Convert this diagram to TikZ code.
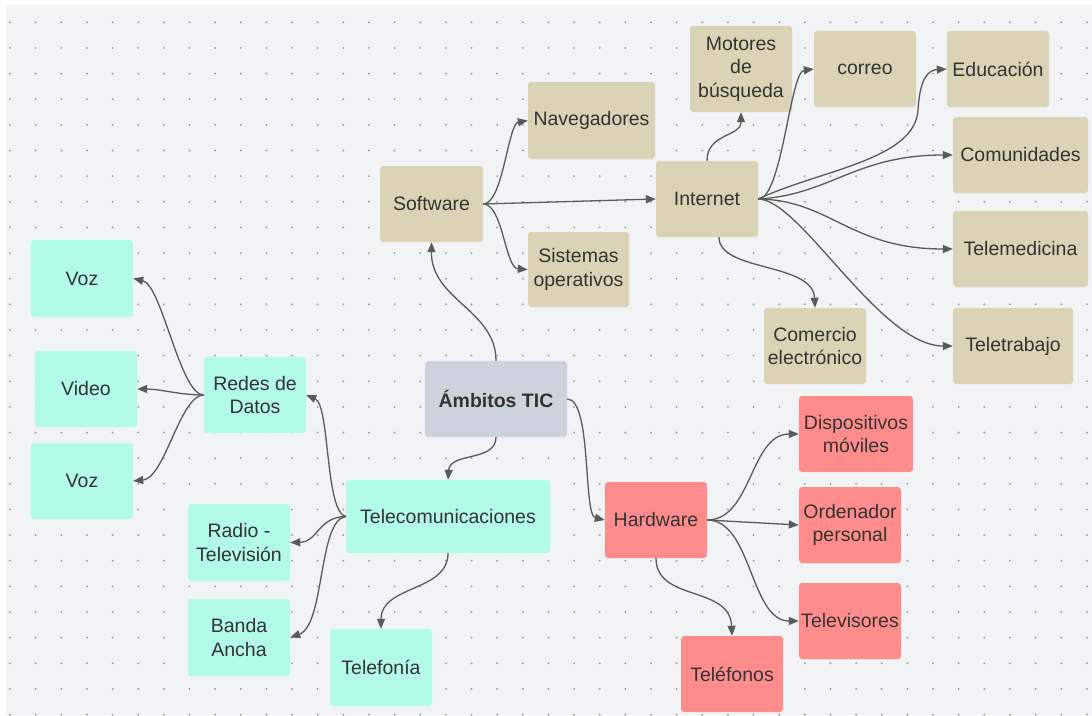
\documentclass[tikz,border=0pt]{standalone}
\usepackage{fontspec}
\setmainfont{Liberation Sans}
\usetikzlibrary{arrows.meta,calc}
\definecolor{bgc}{HTML}{F2F3F5}
\definecolor{dotc}{HTML}{8E929A}
\definecolor{tanc}{HTML}{DAD3B5}
\definecolor{cyanc}{HTML}{B3FBE9}
\definecolor{pinkc}{HTML}{FF8C8C}
\definecolor{grayc}{HTML}{CDD3DC}
\definecolor{txtc}{HTML}{333333}
\definecolor{linec}{HTML}{5A5A5A}
\tikzset{
  box/.style={rectangle, rounded corners=3pt, inner sep=1pt, align=center, text=txtc,
    font=\fontsize{19.5}{23.5}\selectfont, minimum width=102pt, minimum height=76pt},
  tanbox/.style={box, fill=tanc},
  cyanbox/.style={box, fill=cyanc},
  pinkbox/.style={box, fill=pinkc},
  graybox/.style={box, fill=grayc, font=\fontsize{19.5}{23.5}\selectfont\bfseries},
  conn/.style={draw=linec, line width=1.3pt, -{Triangle[length=10pt,width=8pt]}},
}
\begin{document}
\begin{tikzpicture}[x=1pt,y=-1pt]
\fill[white] (0,0) rectangle (1092,715);
\fill[bgc] (6,5) rectangle (1092,715);
\useasboundingbox (0,0) rectangle (1092,715);
\foreach \i in {0,...,42}{
  \foreach \j in {0,...,27}{
    \fill[dotc] ({10+25.64*\i},{22.3+25.64*\j}) circle (1pt);
  }
}
% nodes
\node[graybox, minimum width=142pt] (ambitos) at (496,399) {Ámbitos TIC};
\node[tanbox, minimum width=103pt] (software) at (431.5,204) {Software};
\node[tanbox, minimum width=127pt, minimum height=77pt] (nav) at (591.5,120.5) {Navegadores};
\node[tanbox, minimum width=101pt, minimum height=75pt] (sist) at (578.5,269.5) {Sistemas\\operativos};
\node[tanbox] (internet) at (707,199) {Internet};
\node[tanbox, minimum height=86pt] (motores) at (741,69) {Motores\\de\\búsqueda};
\node[tanbox] (correo) at (865,69) {correo};
\node[tanbox] (edu) at (998,69) {Educación};
\node[tanbox, minimum width=135pt] (comu) at (1020.5,155) {Comunidades};
\node[tanbox, minimum width=135pt] (telemed) at (1020.5,249) {Telemedicina};
\node[tanbox, minimum width=120pt] (teletrab) at (1013,346) {Teletrabajo};
\node[tanbox] (comercio) at (815,346) {Comercio\\electrónico};
\node[cyanbox, minimum width=204pt, minimum height=73pt] (telecom) at (448,516.5) {Telecomunicaciones};
\node[cyanbox, minimum height=77pt] (radio) at (239,542.5) {Radio -\\Televisión};
\node[cyanbox, minimum height=77pt] (banda) at (239,637.5) {Banda\\Ancha};
\node[cyanbox, minimum height=77pt] (telefonia) at (381,667.5) {Telefonía};
\node[cyanbox] (redes) at (255,395) {Redes de\\Datos};
\node[cyanbox, minimum height=77pt] (voza) at (82,278.5) {Voz};
\node[cyanbox] (video) at (86,389) {Video};
\node[cyanbox] (vozb) at (82,481) {Voz};
\node[pinkbox] (hardware) at (656,520) {Hardware};
\node[pinkbox, minimum width=114pt] (disp) at (856,434) {Dispositivos\\móviles};
\node[pinkbox] (orden) at (850,525) {Ordenador\\personal};
\node[pinkbox] (telev) at (850,621) {Televisores};
\node[pinkbox] (telef) at (732,674) {Teléfonos};
% connectors
\draw[conn] (ambitos.north) .. controls (496,310) and (431,300) .. (software.south);
\draw[conn] (ambitos.south) .. controls (496,462) and (450,452) .. (telecom.north);
\draw[conn] (ambitos.east) .. controls (592,399) and (583,515) .. (hardware.west);
\draw[conn] (software.east) .. controls (503,204) and (508,124) .. (nav.west);
\draw[conn] (software.east) -- (internet.west);
\draw[conn] (software.east) .. controls (503,204) and (505,268) .. (sist.west);
\draw[conn] (internet.north) .. controls (707,133) and (741,137) .. (motores.south);
\draw[conn] (internet.east) .. controls (782,199) and (790,72) .. (correo.west);
\draw[conn] (internet.east) .. controls (820,170) and (915,160) .. (918,110) .. controls (920,75) and (930,70) .. (edu.west);
\draw[conn] (internet.east) .. controls (830,195) and (855,155) .. (comu.west);
\draw[conn] (internet.east) .. controls (830,200) and (850,249) .. (telemed.west);
\draw[conn] (internet.east) .. controls (800,199) and (880,346) .. (teletrab.west);
\draw[conn] ($(internet.south)+(12,0)$) .. controls (719,272) and (813,262) .. (comercio.north);
\draw[conn] (telecom.west) .. controls (325,512) and (330,405) .. (redes.east);
\draw[conn] (telecom.west) .. controls (318,517) and (318,542) .. (radio.east);
\draw[conn] (telecom.west) .. controls (318,520) and (325,625) .. (banda.east);
\draw[conn] (telecom.south) .. controls (448,592) and (381,585) .. (telefonia.north);
\draw[conn] (redes.west) .. controls (180,395) and (162,285) .. (voza.east);
\draw[conn] (redes.west) .. controls (180,395) and (160,389) .. (video.east);
\draw[conn] (redes.west) .. controls (180,395) and (165,478) .. (vozb.east);
\draw[conn] (hardware.east) .. controls (752,520) and (750,434) .. (disp.west);
\draw[conn] (hardware.east) -- (orden.west);
\draw[conn] (hardware.east) .. controls (752,520) and (750,621) .. (telev.west);
\draw[conn] (hardware.south) .. controls (656,602) and (730,585) .. (telef.north);
\end{tikzpicture}
\end{document}
